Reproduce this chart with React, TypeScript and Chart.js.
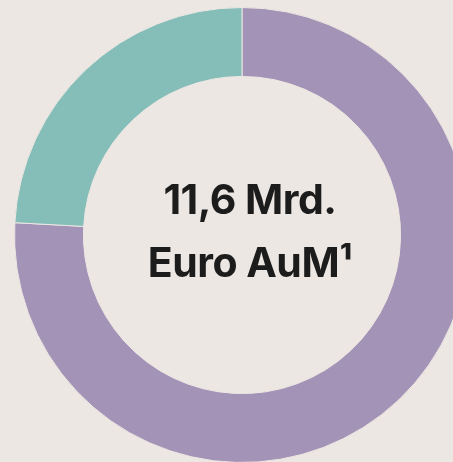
import React, { useEffect, useRef } from "react";
import { Chart, registerables } from "chart.js";

Chart.register(...registerables);

const categories = ["Segment A", "Segment B"];
const values = [8.8, 2.8];
const colors = ["#a393b6", "#85bdb8"];
const centerLines = ["11,6 Mrd.", "Euro AuM¹"];

const BG = "#ece7e3";

export default function App() {
  const ref = useRef<HTMLCanvasElement | null>(null);

  useEffect(() => {
    document.body.style.margin = "0";
    document.body.style.overflow = "hidden";
    const chart = new Chart(ref.current!, {
      type: "doughnut",
      data: {
        labels: categories,
        datasets: [
          {
            data: values,
            backgroundColor: colors,
            borderColor: BG,
            borderWidth: 1,
          },
        ],
      },
      options: {
        responsive: false,
        animation: false,
        cutout: "69.7%",
        layout: { padding: 0 },
        plugins: { legend: { display: false }, tooltip: { enabled: false } },
      },
    });
    return () => chart.destroy();
  }, []);

  const textStyle: React.CSSProperties = {
    position: "absolute",
    left: 0,
    width: 500,
    textAlign: "center",
    fontFamily: "Inter, sans-serif",
    fontWeight: 700,
    fontSize: 41,
    lineHeight: "41px",
    color: "#1c1c1c",
    letterSpacing: "-0.5px",
    whiteSpace: "nowrap",
  };

  return (
    <div
      style={{
        position: "fixed",
        left: 0,
        top: 0,
        width: 453,
        height: 462,
        overflow: "hidden",
        background: BG,
      }}
    >
      <canvas
        ref={ref}
        width={456}
        height={456}
        style={{ position: "absolute", left: 14, top: 7, width: 456, height: 456 }}
      />
      <div style={{ ...textStyle, top: 179 }}>{centerLines[0]}</div>
      <div style={{ ...textStyle, top: 242 }}>{centerLines[1]}</div>
    </div>
  );
}
